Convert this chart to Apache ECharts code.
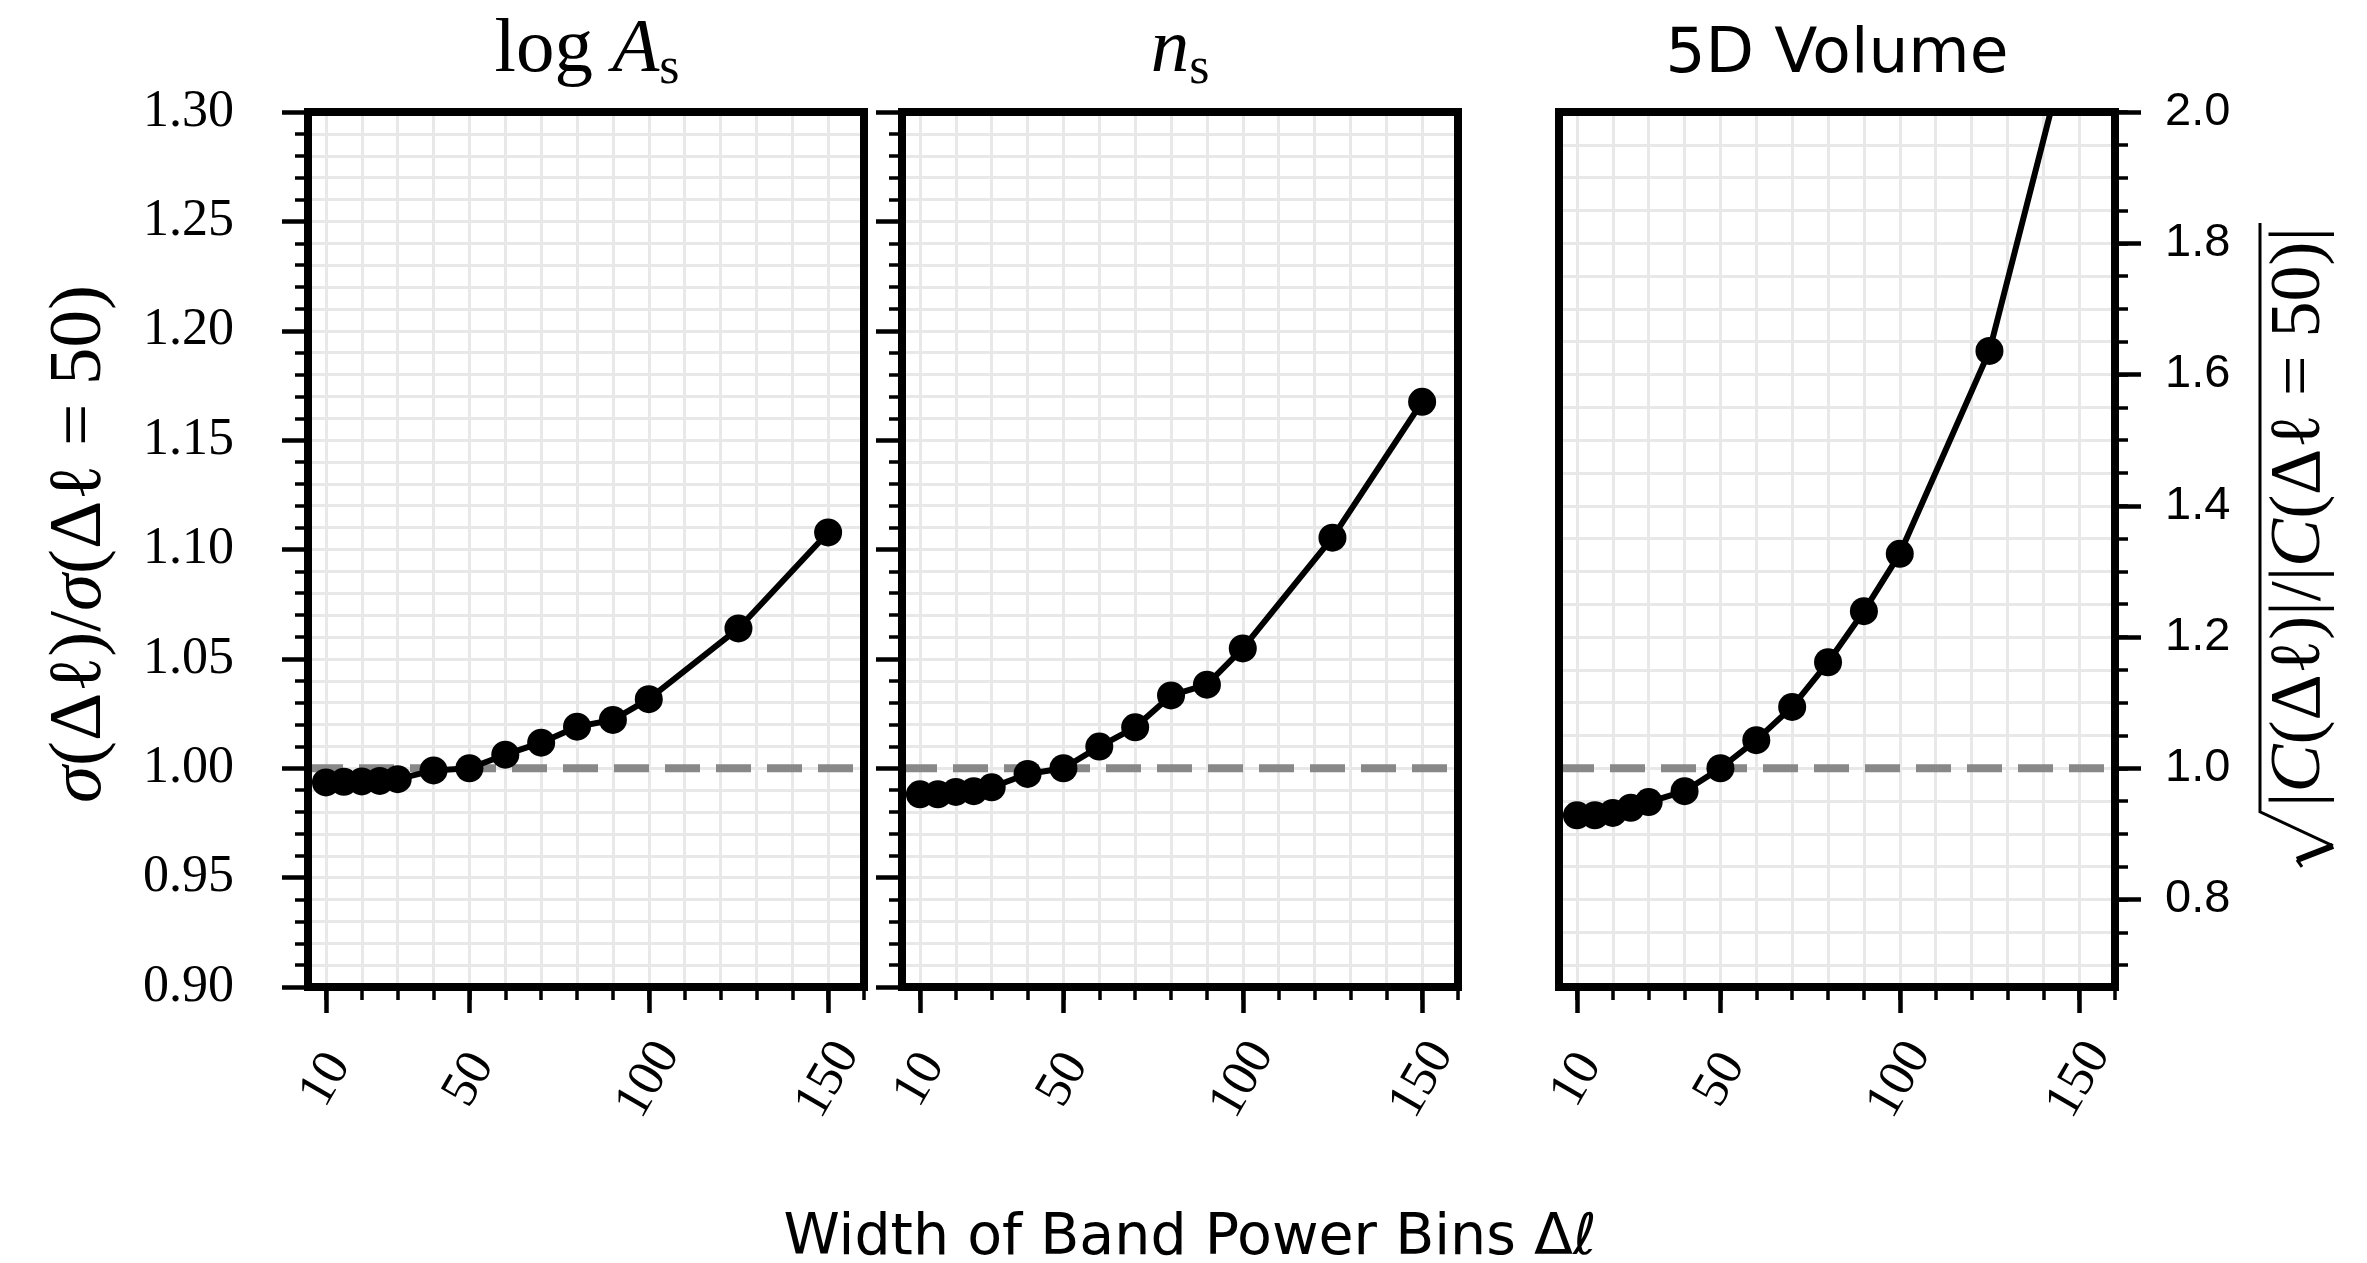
<!DOCTYPE html>
<html><head><meta charset="utf-8">
<script src="https://cdn.jsdelivr.net/npm/echarts@6/dist/echarts.min.js"></script>
<style>html,body{margin:0;padding:0;background:#fff}#chart{width:2367px;height:1263px}</style>
</head><body><div id="chart"></div>
<script>
// ---------------- data ----------------
const binWidths = [10, 15, 20, 25, 30, 40, 50, 60, 70, 80, 90, 100, 125, 150];
const ratioLogAs = [0.9935, 0.9938, 0.9940, 0.9942, 0.9950, 0.9990, 1.0000, 1.0062, 1.0117, 1.0190, 1.0221, 1.0316, 1.0639, 1.1078];
const ratioNs = [0.9881, 0.9881, 0.9892, 0.9895, 0.9913, 0.9974, 1.0000, 1.0099, 1.0187, 1.0333, 1.0382, 1.0548, 1.1054, 1.1675];
const volumeRatio = [0.9282, 0.9282, 0.9320, 0.9398, 0.9485, 0.9650, 1.0000, 1.0428, 1.0935, 1.1615, 1.2393, 1.3268, 1.6360, 2.1700];
const xMajorTicks = [10, 50, 100, 150];
const xMinorTicks = [10, 20, 30, 40, 50, 60, 70, 80, 90, 100, 110, 120, 130, 140, 150, 160];
const xRange = [5, 160];
const sigmaRange = [0.9, 1.3];
const sigmaTickStep = 0.05;
const volumeRange = [2 / 3, 2.0];
const volumeMajorTicks = [0.8, 1.0, 1.2, 1.4, 1.6, 1.8, 2.0];
const volumeMinorTicks = [0.70, 0.75, 0.80, 0.85, 0.90, 0.95, 1.00, 1.05, 1.10, 1.15, 1.20, 1.25, 1.30, 1.35, 1.40, 1.45, 1.50, 1.55, 1.60, 1.65, 1.70, 1.75, 1.80, 1.85, 1.90, 1.95, 2.00];
const referenceLevel = 1.0;

// ---------------- styling ----------------
const SERIF = '"Liberation Serif", "DejaVu Serif", serif';
const SANS = '"DejaVu Sans", sans-serif';
const SANS_TICK = '"Liberation Sans", Arial, sans-serif';
const GRID_COLOR = '#e8e8e8';
const SPINE = { color: '#000', width: 8, cap: 'square' };
const lefts = [308, 902, 1559];
const TOP = 112, W = 556, H = 875;

const datasets = [ratioLogAs, ratioNs, volumeRatio];
const grids = lefts.map(l => ({ left: l, top: TOP, width: W, height: H, show: false, containLabel: false, outerBoundsMode: 'none' }));
const xAxes = [], yAxes = [], series = [];

lefts.forEach((_, i) => {
  const xb = { type: 'value', gridIndex: i, min: xRange[0], max: xRange[1] };
  xAxes.push({ ...xb, position: 'bottom', z: 0,
    axisLine: { show: false, onZero: false },
    axisTick: { show: true, customValues: xMinorTicks, length: 13, lineStyle: { color: '#000', width: 3.5 } },
    axisLabel: { show: false },
    splitLine: { show: true, lineStyle: { color: GRID_COLOR, width: 3 } } });
  xAxes.push({ ...xb, position: 'bottom', z: 5,
    axisLine: { show: true, onZero: false, lineStyle: SPINE },
    axisTick: { show: true, customValues: xMajorTicks, length: 26, lineStyle: { color: '#000', width: 4.5 } },
    axisLabel: { show: true, customValues: xMajorTicks, rotate: 60, align: 'center', verticalAlign: 'middle',
      margin: 93, fontFamily: SERIF, fontSize: 52, color: '#000', formatter: v => String(v) },
    splitLine: { show: false } });
  xAxes.push({ ...xb, position: 'top', z: 5,
    axisLine: { show: true, onZero: false, lineStyle: SPINE },
    axisTick: { show: false }, axisLabel: { show: false }, splitLine: { show: false } });

  if (i < 2) {
    const yb = { type: 'value', gridIndex: i, min: sigmaRange[0], max: sigmaRange[1] };
    yAxes.push({ ...yb, interval: sigmaTickStep, position: 'left', z: 0,
      axisLine: { show: false, onZero: false },
      axisTick: { show: true, length: 26, lineStyle: { color: '#000', width: 4.5 } },
      minorTick: { show: true, splitNumber: 5, length: 13, lineStyle: { color: '#000', width: 3.5 } },
      splitLine: { show: true, lineStyle: { color: GRID_COLOR, width: 3 } },
      minorSplitLine: { show: true, lineStyle: { color: GRID_COLOR, width: 3 } },
      axisLabel: { show: i === 0, formatter: v => v.toFixed(2), margin: 74, fontFamily: SERIF, fontSize: 52,
        color: '#000', padding: [0, 0, 16, 0] } });
    yAxes.push({ ...yb, position: 'left', z: 5, axisLine: { show: true, onZero: false, lineStyle: SPINE },
      axisTick: { show: false }, axisLabel: { show: false }, splitLine: { show: false } });
    yAxes.push({ ...yb, position: 'right', z: 5, axisLine: { show: true, onZero: false, lineStyle: SPINE },
      axisTick: { show: false }, axisLabel: { show: false }, splitLine: { show: false } });
  } else {
    const yb = { type: 'value', gridIndex: i, min: volumeRange[0], max: volumeRange[1] };
    yAxes.push({ ...yb, position: 'right', z: 0,
      axisLine: { show: false, onZero: false },
      axisTick: { show: true, customValues: volumeMinorTicks, length: 13, lineStyle: { color: '#000', width: 3.5 } },
      axisLabel: { show: false },
      splitLine: { show: true, lineStyle: { color: GRID_COLOR, width: 3 } } });
    yAxes.push({ ...yb, position: 'right', z: 5,
      axisLine: { show: true, onZero: false, lineStyle: SPINE },
      axisTick: { show: true, customValues: volumeMajorTicks, length: 26, lineStyle: { color: '#000', width: 4.5 } },
      axisLabel: { show: true, customValues: volumeMajorTicks, formatter: v => v.toFixed(1), margin: 50,
        fontFamily: SANS_TICK, fontSize: 47, color: '#000' },
      splitLine: { show: false } });
    yAxes.push({ ...yb, position: 'left', z: 5, axisLine: { show: true, onZero: false, lineStyle: SPINE },
      axisTick: { show: false }, axisLabel: { show: false }, splitLine: { show: false } });
  }

  series.push({ type: 'line', xAxisIndex: 3 * i, yAxisIndex: 3 * i, z: 1, silent: true,
    data: [[xRange[0], referenceLevel], [xRange[1], referenceLevel]], symbol: 'none',
    lineStyle: { color: '#888', width: 8, type: [35, 16] } });
  series.push({ type: 'line', xAxisIndex: 3 * i, yAxisIndex: 3 * i, z: 3, silent: true, clip: true,
    data: binWidths.map((x, k) => [x, datasets[i][k]]),
    symbol: 'circle', symbolSize: 28, showSymbol: true, showAllSymbol: true,
    itemStyle: { color: '#000' }, lineStyle: { color: '#000', width: 6 } });
});

// ---------------- text ----------------
const sub = { fontFamily: SERIF, fontSize: 52, padding: [36, 0, 0, 0], verticalAlign: 'middle' };
function measure(text, font) { const c = document.createElement('canvas').getContext('2d'); c.font = font; return c.measureText(text).width; }
const RFS = 72;
const rTokens = [['|', false], ['C', true], ['(Δℓ)|/|', false], ['C', true], ['(Δℓ = 50)|', false]];
const rTextW = rTokens.reduce((s, t) => s + measure(t[0], (t[1] ? 'italic ' : '') + RFS + 'px "Liberation Serif"'), 0);
const radW = 58;
const totalW = radW + rTextW + 6;
const s0 = -totalW / 2;

const graphics = [
  { type: 'text', x: 587, y: 51, silent: true, style: { text: '{r|log }{i|A}{s|s}', align: 'center', verticalAlign: 'middle', fill: '#000',
    rich: { r: { fontFamily: SERIF, fontSize: 77, verticalAlign: 'middle' }, i: { fontFamily: SERIF, fontSize: 77, fontStyle: 'italic', verticalAlign: 'middle' }, s: sub } } },
  { type: 'text', x: 1180, y: 51, silent: true, style: { text: '{i|n}{s|s}', align: 'center', verticalAlign: 'middle', fill: '#000',
    rich: { i: { fontFamily: SERIF, fontSize: 77, fontStyle: 'italic', verticalAlign: 'middle' }, s: sub } } },
  { type: 'text', x: 1837, y: 56, silent: true, style: { text: '5D Volume', align: 'center', verticalAlign: 'middle', fill: '#000',
    fontFamily: SANS, fontSize: 63 } },
  { type: 'text', x: 1190, y: 1239, silent: true, style: { text: 'Width of Band Power Bins Δℓ', align: 'center', verticalAlign: 'middle', fill: '#000',
    fontFamily: SANS, fontSize: 57 } },
  { type: 'text', x: 80, y: 544, rotation: Math.PI / 2, silent: true, style: { text: '{i|σ}(Δℓ)/{i|σ}(Δℓ = 50)', align: 'center', verticalAlign: 'middle', fill: '#000',
    fontFamily: SERIF, fontSize: 75, rich: { i: { fontFamily: SERIF, fontSize: 75, fontStyle: 'italic' } } } },
  { type: 'group', x: 2300, y: 545, rotation: Math.PI / 2, silent: true, children: [
    { type: 'polyline', shape: { points: [[s0, 2], [s0 + 7, -3]] }, style: { stroke: '#000', lineWidth: 3, fill: null } },
    { type: 'polyline', shape: { points: [[s0 + 7, -3], [s0 + 21, 33]] }, style: { stroke: '#000', lineWidth: 6, fill: null } },
    { type: 'polyline', shape: { points: [[s0 + 21, 33], [s0 + 55, -40], [s0 + totalW, -40]] }, style: { stroke: '#000', lineWidth: 3, fill: null, lineJoin: 'miter' } },
    { type: 'text', x: s0 + radW + 2, y: 0, style: { text: '|{i|C}(Δℓ)|/|{i|C}(Δℓ = 50)|', align: 'left', verticalAlign: 'middle', fill: '#000',
      fontFamily: SERIF, fontSize: RFS, rich: { i: { fontFamily: SERIF, fontSize: RFS, fontStyle: 'italic' } } } }
  ] }
];

const chart = echarts.init(document.getElementById('chart'), null, { renderer: 'canvas' });
chart.setOption({
  animation: false,
  backgroundColor: '#fff',
  grid: grids,
  xAxis: xAxes,
  yAxis: yAxes,
  series: series,
  graphic: graphics
});
</script></body></html>
